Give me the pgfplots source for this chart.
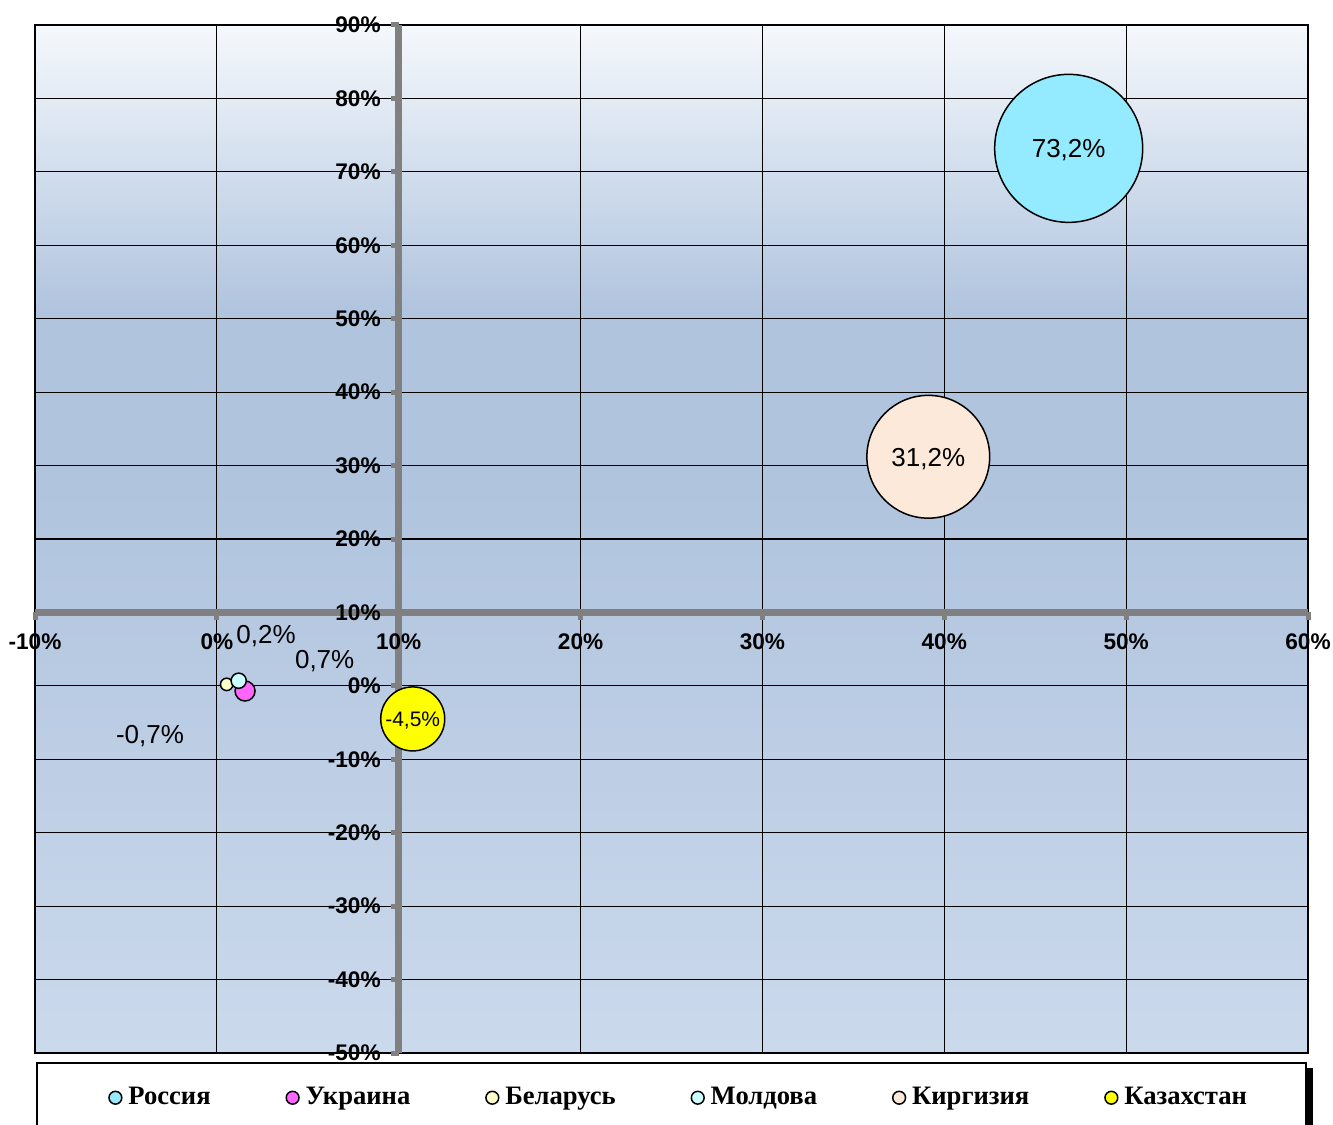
\documentclass[border=0pt]{standalone}
\usepackage{fontspec}
\setmainfont{Liberation Sans}
\newfontfamily\legfont{Liberation Serif}
\usepackage{pgfplots}
\pgfplotsset{compat=1.18}
\usepackage{pgfplotstable}

\definecolor{bgtop}{HTML}{F5F8FC}
\definecolor{bgmid}{HTML}{B0C4DE}
\definecolor{bgbot}{HTML}{CBD9EC}
\definecolor{axgray}{HTML}{808080}
\definecolor{cRus}{HTML}{94EAFE}
\definecolor{cUkr}{HTML}{FF66FF}
\definecolor{cBel}{HTML}{FFFFCC}
\definecolor{cMol}{HTML}{CCFFFF}
\definecolor{cKir}{HTML}{FDE9D9}
\definecolor{cKaz}{HTML}{FFFF00}

\pgfdeclareverticalshading{plotbg}{100bp}{color(0bp)=(bgbot); color(25bp)=(bgbot); color(52.5bp)=(bgmid); color(61bp)=(bgmid); color(75bp)=(bgtop); color(100bp)=(bgtop)}

% true values: x (%), y (%), label
\pgfplotstableread{
x y lab
46.84 73.2 73,2
}\rus
\pgfplotstableread{
x y lab
1.55 -0.7 -0,7
}\ukr
\pgfplotstableread{
x y lab
0.54 0.2 0,2
}\bel
\pgfplotstableread{
x y lab
1.20 0.7 0,7
}\mol
\pgfplotstableread{
x y lab
39.12 31.2 31,2
}\kir
\pgfplotstableread{
x y lab
10.77 -4.5 -4,5
}\kaz

\begin{document}
\begin{tikzpicture}
\begin{axis}[
  name=ax,
  scale only axis,
  width=636.5pt, height=514pt,
  xmin=-20, xmax=50, ymin=-60, ymax=80,
  enlargelimits=false,
  axis lines=middle,
  axis line style={-, draw=axgray, line width=3.5pt},
  hide obscured x ticks=false, hide obscured y ticks=false,
  xtick={-20,-10,...,50},
  xticklabels={-10\%,0\%,10\%,20\%,30\%,40\%,50\%,60\%},
  ytick={-60,-50,...,80},
  yticklabels={-50\%,-40\%,-30\%,-20\%,-10\%,0\%,10\%,20\%,30\%,40\%,50\%,60\%,70\%,80\%,90\%},
  ticklabel style={font=\fontsize{11.3}{13}\selectfont\bfseries, text=black},
  xticklabel style={yshift=-3pt},
  yticklabel style={xshift=-1.5pt},
  tick align=outside,
  major tick length=4pt,
  tick style={draw=axgray, line width=2.5pt},
  grid=major,
  major grid style={black, line width=0.6pt},
  axis background/.style={shading=plotbg, draw=black, line width=0.6pt},
  clip=false,
  legend columns=6,
  legend image code/.code={\path[draw=none,fill=none] (-4pt,-4pt) rectangle (4pt,4pt); \draw[#1] plot coordinates {(0pt,0pt)};},
  legend image post style={mark size=3.2pt},
  legend style={at={(0,0)}, anchor=west, xshift=36pt, yshift=-22.35pt,
    draw=none, fill=none, inner sep=0pt,
    font=\legfont\bfseries\fontsize{13.3}{15}\selectfont,
    /tikz/every odd column/.style={column sep=0.5pt},
    /tikz/every even column/.style={column sep=35pt}},
  point meta=explicit symbolic,
  nodes near coords={\pgfplotspointmeta\%},
  nodes near coords align={center},
  every node near coord/.append style={text=black, yshift=-1pt, font=\fontsize{13}{15}\selectfont},
]
\addplot[only marks, mark=*, mark size=37pt, mark options={draw=black, fill=cRus, line width=0.75pt}]
  table[x expr=\thisrow{x}-10, y expr=\thisrow{y}-10, meta=lab]{\rus};
\addlegendentry{Россия}
\addplot[only marks, mark=*, mark size=5pt, mark options={draw=black, fill=cUkr, line width=0.75pt},
  every node near coord/.append style={xshift=-47.5pt, yshift=-21.7pt}]
  table[x expr=\thisrow{x}-10, y expr=\thisrow{y}-10, meta=lab]{\ukr};
\addlegendentry{Украина}
\addplot[only marks, mark=*, mark size=3.1pt, mark options={draw=black, fill=cBel, line width=0.75pt},
  every node near coord/.append style={xshift=19.7pt, yshift=25pt}]
  table[x expr=\thisrow{x}-10, y expr=\thisrow{y}-10, meta=lab]{\bel};
\addlegendentry{Беларусь}
\addplot[only marks, mark=*, mark size=3.8pt, mark options={draw=black, fill=cMol, line width=0.75pt},
  every node near coord/.append style={xshift=43pt, yshift=11pt}]
  table[x expr=\thisrow{x}-10, y expr=\thisrow{y}-10, meta=lab]{\mol};
\addlegendentry{Молдова}
\addplot[only marks, mark=*, mark size=30.7pt, mark options={draw=black, fill=cKir, line width=0.75pt}]
  table[x expr=\thisrow{x}-10, y expr=\thisrow{y}-10, meta=lab]{\kir};
\addlegendentry{Киргизия}
\addplot[only marks, mark=*, mark size=16pt, mark options={draw=black, fill=cKaz, line width=0.75pt},
  every node near coord/.append style={font=\fontsize{10.5}{12}\selectfont}]
  table[x expr=\thisrow{x}-10, y expr=\thisrow{y}-10, meta=lab]{\kaz};
\addlegendentry{Казахстан}
\end{axis}
\draw[black, line width=0.6pt] ([xshift=1pt,yshift=-40pt]ax.south west) |- ([xshift=-1pt,yshift=-5pt]ax.south east) -- ++(0,-40pt);
\fill[black] ([xshift=-0.5pt,yshift=-7.5pt]ax.south east) rectangle ([xshift=2.5pt,yshift=-45pt]ax.south east);
\pgfresetboundingbox
\path[use as bounding box] ([xshift=-17.5pt, yshift=-35.5pt]ax.south west) rectangle ([xshift=12.5pt, yshift=12.5pt]ax.north east);
\end{tikzpicture}
\end{document}
